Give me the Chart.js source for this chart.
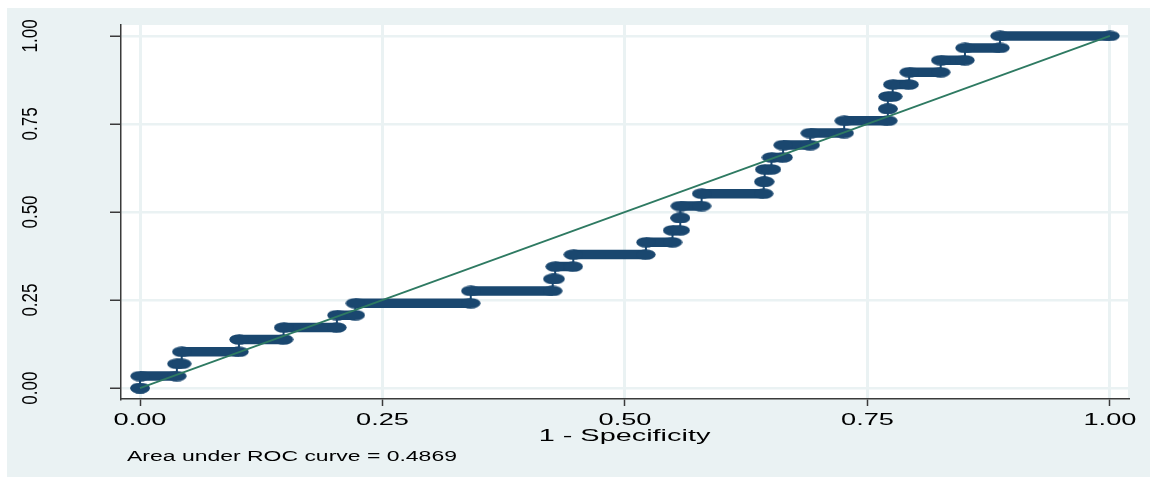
<!DOCTYPE html>
<html lang="en">
  <head>
    <meta charset="UTF-8" />
    <title>ROC curve</title>
    <script src="https://cdn.jsdelivr.net/npm/chart.js"></script>
    <style>
      body { margin: 0; background: #fff; }
      canvas { display: block; }
    </style>
  </head>
  <body>
    <canvas id="rocChart" width="1150" height="478"></canvas>

    <script>
      // ROC vertices: one horizontal run per sensitivity level
      const sensitivity = [
        0.0, 0.034, 0.069, 0.103, 0.138, 0.172, 0.207, 0.241, 0.276, 0.31,
        0.345, 0.379, 0.414, 0.448, 0.483, 0.517, 0.552, 0.586, 0.621, 0.655,
        0.69, 0.724, 0.759, 0.793, 0.828, 0.862, 0.897, 0.931, 0.966, 1.0,
      ];
      const runStart = [
        0.0, 0.0, 0.038, 0.043, 0.102, 0.148, 0.203, 0.222, 0.341, 0.4255,
        0.428, 0.4467, 0.5216, 0.549, 0.557, 0.557, 0.579, 0.643, 0.644, 0.651,
        0.663, 0.691, 0.726, 0.771, 0.771, 0.776, 0.793, 0.8255, 0.8505, 0.8866,
      ];
      const runEnd = [
        0.0, 0.038, 0.043, 0.102, 0.148, 0.203, 0.222, 0.341, 0.4255, 0.428,
        0.4467, 0.5216, 0.549, 0.557, 0.557, 0.579, 0.643, 0.644, 0.651, 0.663,
        0.691, 0.726, 0.771, 0.771, 0.776, 0.793, 0.8255, 0.8505, 0.8866, 1.0,
      ];
      const tickValues = [0, 0.25, 0.5, 0.75, 1];
      const tickLabels = ["0.00", "0.25", "0.50", "0.75", "1.00"];
      const xTitle = "1 - Specificity";
      const note = "Area under ROC curve = 0.4869";

      const navy = "#1a476f";
      const green = "#2e7a62";
      const bluishGray = "#eaf2f3";
      const axisColor = "#3a3a3a";
      const fontFamily = "'Liberation Sans', Arial, sans-serif";

      // elliptical marker
      const marker = document.createElement("canvas");
      marker.width = 20;
      marker.height = 11;
      const mctx = marker.getContext("2d");
      mctx.fillStyle = navy;
      mctx.beginPath();
      mctx.ellipse(10, 5.5, 9.7, 5.2, 0, 0, Math.PI * 2);
      mctx.fill();

      // thick runs (broken between levels) and the thin path through every vertex
      const runPoints = [];
      const pathPoints = [];
      sensitivity.forEach((s, i) => {
        runPoints.push({ x: runStart[i], y: s });
        runPoints.push({ x: runEnd[i], y: s });
        runPoints.push({ x: runEnd[i], y: null });
        pathPoints.push({ x: runStart[i], y: s });
        pathPoints.push({ x: runEnd[i], y: s });
      });

      const backdrop = {
        id: "backdrop",
        beforeDraw(chart) {
          const { ctx, chartArea: a } = chart;
          ctx.save();
          ctx.fillStyle = "#fff";
          ctx.fillRect(0, 0, chart.width, chart.height);
          ctx.fillStyle = bluishGray;
          ctx.fillRect(7, 8, chart.width - 7, chart.height - 9);
          ctx.fillStyle = "#fff";
          ctx.fillRect(a.left, a.top, a.right - a.left, a.bottom - a.top);
          ctx.restore();
        },
      };

      function stretchedText(ctx, text, x, y, size, sx, sy, align, angle) {
        ctx.save();
        ctx.translate(x, y);
        if (angle) ctx.rotate(angle);
        ctx.scale(sx, sy);
        ctx.font = size + "px " + fontFamily;
        ctx.fillStyle = "#000";
        ctx.textAlign = align;
        ctx.textBaseline = "alphabetic";
        ctx.fillText(text, 0, 0);
        ctx.restore();
      }

      const labels = {
        id: "labels",
        afterDraw(chart) {
          const { ctx, scales, chartArea: a } = chart;
          tickValues.forEach((v, i) => {
            stretchedText(ctx, tickLabels[i], scales.x.getPixelForValue(v), 425, 17, 1.6, 1, "center");
            stretchedText(ctx, tickLabels[i], 37, scales.y.getPixelForValue(v), 17, 1, 1.32, "center", -Math.PI / 2);
          });
          stretchedText(ctx, xTitle, (a.left + a.right) / 2, 441, 16.5, 1.75, 1, "center");
          stretchedText(ctx, note, 127, 461, 14, 1.64, 1, "left");
        },
      };

      const ctx = document.getElementById("rocChart").getContext("2d");
      new Chart(ctx, {
        type: "scatter",
        data: {
          datasets: [
            {
              label: "Reference",
              data: [{ x: 0, y: 0 }, { x: 1, y: 1 }],
              showLine: true,
              borderColor: green,
              borderWidth: 1.8,
              pointRadius: 0,
              order: 0,
            },
            {
              label: "Path",
              data: pathPoints,
              showLine: true,
              borderColor: navy,
              borderWidth: 2,
              pointRadius: 0,
              order: 2,
            },
            {
              label: "Runs",
              data: runPoints,
              showLine: true,
              spanGaps: false,
              borderColor: navy,
              borderWidth: 9.5,
              borderCapStyle: "butt",
              pointStyle: marker,
              pointRadius: 5,
              order: 1,
            },
          ],
        },
        options: {
          responsive: false,
          devicePixelRatio: 1,
          animation: false,
          layout: { padding: { left: 0, top: 25, right: 22, bottom: 0 } },
          plugins: { legend: { display: false }, tooltip: { enabled: false } },
          scales: {
            x: {
              type: "linear",
              min: -0.0196,
              max: 1.0186,
              afterBuildTicks: (scale) => {
                scale.ticks = tickValues.map((v) => ({ value: v }));
              },
              afterFit: (scale) => {
                scale.height = 79;
              },
              ticks: { display: false },
              grid: {
                color: bluishGray,
                lineWidth: 3,
                tickColor: axisColor,
                tickWidth: 1.5,
                tickLength: 7,
              },
              border: { color: axisColor, width: 1.5 },
            },
            y: {
              type: "linear",
              min: -0.031,
              max: 1.031,
              afterBuildTicks: (scale) => {
                scale.ticks = tickValues.map((v) => ({ value: v }));
              },
              afterFit: (scale) => {
                scale.width = 121;
              },
              ticks: { display: false },
              grid: {
                color: bluishGray,
                lineWidth: 2.5,
                tickColor: axisColor,
                tickWidth: 1.5,
                tickLength: 11,
              },
              border: { color: axisColor, width: 1.5 },
            },
          },
        },
        plugins: [backdrop, labels],
      });
    </script>
  </body>
</html>
